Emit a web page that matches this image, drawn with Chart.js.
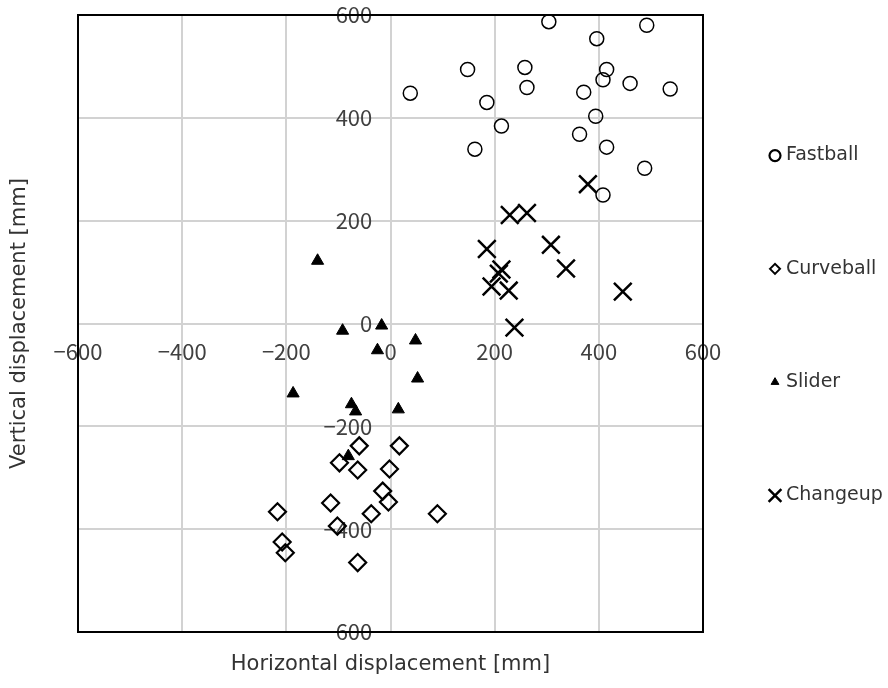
<!DOCTYPE html>
<html><head><meta charset="utf-8">
<script src="https://cdn.jsdelivr.net/npm/chart.js@4.4.0/dist/chart.umd.min.js"></script>
<style>html,body{margin:0;padding:0;background:#fff}#wrap{width:888px;height:688px}</style>
</head><body><div id="wrap"><canvas id="c" width="888" height="688"></canvas></div>
<script>
// ---- data ----
const seriesNames = ['Fastball', 'Curveball', 'Slider', 'Changeup'];
const fastballX = [38, 148, 304, 492, 396, 258, 415, 185, 262, 371, 408, 460, 537, 213, 394, 363, 162, 415, 488, 408];
const fastballY = [448, 494, 587, 580, 554, 498, 494, 430, 459, 450, 474, 467, 456, 384, 403, 368, 339, 343, 302, 250];
const curveballX = [-60, 17, -98, -63, -2, -15, -4, -37, -115, -102, -217, -208, -202, -63, 90];
const curveballY = [-238, -238, -271, -285, -283, -326, -347, -370, -349, -394, -366, -425, -446, -465, -370];
const sliderX = [-140, -92, -17, -25, 48, 52, -187, 15, -75, -67, -81];
const sliderY = [122, -14, -4, -52, -33, -107, -136, -167, -157, -171, -258];
const changeupX = [379, 229, 262, 185, 308, 208, 213, 337, 194, 227, 446, 238];
const changeupY = [271, 211, 215, 145, 153, 97, 105, 107, 72, 64, 62, -8];
const axisMin = -600, axisMax = 600, axisStep = 200;
const xTitle = 'Horizontal displacement [mm]';
const yTitle = 'Vertical displacement [mm]';

const pts = (xs, ys) => xs.map((x, i) => ({x: x, y: ys[i]}));
const fmt = v => String(v).replace('-', '\u2212');
const zeroPad = s => { s.paddingLeft = 0; s.paddingRight = 0; s.paddingTop = 0; s.paddingBottom = 0; };
const tickFont = {family: 'Noto Sans CJK JP', size: 22};
const titleFont = {family: 'DejaVu Sans', size: 21};
const gridCol = '#d2d2d2';

const framePlugin = {
  id: 'frame',
  afterDatasetsDraw(chart) {
    const a = chart.chartArea, ctx = chart.ctx;
    ctx.save();
    ctx.strokeStyle = '#000'; ctx.lineWidth = 2;
    ctx.strokeRect(a.left, a.top, a.right - a.left, a.bottom - a.top);
    ctx.restore();
  }
};

const legendPlugin = {
  id: 'sideLegend',
  afterDraw(chart) {
    const ctx = chart.ctx, a = chart.chartArea;
    const cy = (a.top + a.bottom) / 2 + 2, gap = 113.3;
    const mx = 775, tx = 786;
    ctx.save();
    chart.data.datasets.forEach((ds, i) => {
      const y = cy + (i - 1.5) * gap;
      ctx.strokeStyle = '#000';
      ctx.fillStyle = ds.legendFill;
      ctx.lineWidth = ds.legendBorder;
      Chart.helpers.drawPoint(ctx, {pointStyle: ds.pointStyle, radius: ds.legendRadius, rotation: 0, borderWidth: ds.legendBorder}, mx, y);
      ctx.fillStyle = '#333';
      ctx.font = '19px "DejaVu Sans"';
      ctx.textAlign = 'left';
      ctx.textBaseline = 'middle';
      ctx.fillText(ds.label, tx, y);
    });
    ctx.restore();
  }
};

new Chart(document.getElementById('c'), {
  type: 'scatter',
  data: {
    datasets: [
      {label: seriesNames[0], data: pts(fastballX, fastballY), pointStyle: 'circle', pointRadius: 7, pointHoverRadius: 7,
       borderColor: '#000', backgroundColor: 'rgba(0,0,0,0)', borderWidth: 1.5, legendRadius: 5.5, legendBorder: 2.2, legendFill: 'rgba(0,0,0,0)'},
      {label: seriesNames[1], data: pts(curveballX, curveballY), pointStyle: 'rectRot', pointRadius: 8.5, pointHoverRadius: 8.5,
       borderColor: '#000', backgroundColor: 'rgba(0,0,0,0)', borderWidth: 2.2, legendRadius: 5, legendBorder: 2, legendFill: 'rgba(0,0,0,0)'},
      {label: seriesNames[2], data: pts(sliderX, sliderY), pointStyle: 'triangle', pointRadius: 7, pointHoverRadius: 7,
       borderColor: '#000', backgroundColor: '#000', borderWidth: 1, legendRadius: 4.5, legendBorder: 1, legendFill: '#000'},
      {label: seriesNames[3], data: pts(changeupX, changeupY), pointStyle: 'crossRot', pointRadius: 12.5, pointHoverRadius: 12.5,
       borderColor: '#000', backgroundColor: '#000', borderWidth: 2.5, legendRadius: 9, legendBorder: 2.5, legendFill: '#000'}
    ]
  },
  options: {
    responsive: false,
    animation: false,
    events: [],
    layout: {padding: {left: 0, top: 13, right: 185, bottom: 0}},
    plugins: {legend: {display: false}, tooltip: {enabled: false}},
    scales: {
      x: {
        type: 'linear', position: 'bottom', min: axisMin, max: axisMax,
        ticks: {display: false, stepSize: axisStep},
        grid: {color: gridCol, lineWidth: 2, drawTicks: false},
        border: {display: false},
        title: {display: true, text: xTitle, font: titleFont, color: '#333', padding: {top: 20.4, bottom: 10.4}},
        afterFit: zeroPad
      },
      y: {
        type: 'linear', position: 'left', min: axisMin, max: axisMax,
        ticks: {display: false, stepSize: axisStep},
        grid: {color: gridCol, lineWidth: 2, drawTicks: false},
        border: {display: false},
        title: {display: true, text: yTitle, font: titleFont, color: '#333', padding: {top: 7.4, bottom: 45.4}},
        afterFit: zeroPad
      },
      x2: {
        type: 'linear', position: {y: 0}, min: axisMin, max: axisMax,
        ticks: {stepSize: axisStep, autoSkip: false, maxRotation: 0, padding: 15, font: tickFont, color: '#404040', callback: fmt},
        grid: {display: false, drawTicks: false},
        border: {display: false},
        afterFit: zeroPad
      },
      y2: {
        type: 'linear', position: {x: -35}, min: axisMin, max: axisMax,
        ticks: {stepSize: axisStep, autoSkip: false, padding: 0, font: tickFont, color: '#404040', callback: fmt},
        grid: {display: false, drawTicks: false},
        border: {display: false},
        afterFit: zeroPad
      }
    }
  },
  plugins: [framePlugin, legendPlugin]
});
</script>
</body></html>
